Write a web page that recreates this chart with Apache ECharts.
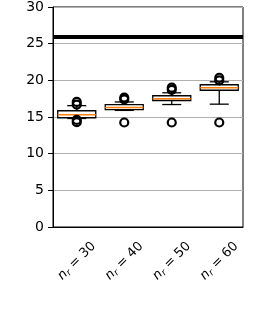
<!DOCTYPE html>
<html><head><meta charset="utf-8">
<script src="https://cdn.jsdelivr.net/npm/echarts@6/dist/echarts.min.js"></script>
<style>html,body{margin:0;padding:0;background:#fff}#c{width:254px;height:314px}</style>
</head><body><div id="c"></div>
<script>
const categories = ['30', '40', '50', '60'];
// [whiskerLow, q1, median, q3, whiskerHigh]
const boxStats = [
  [14.8, 14.9, 15.3, 15.85, 16.55],
  [15.9, 16.0, 16.3, 16.7, 17.05],
  [16.7, 17.25, 17.5, 17.9, 18.3],
  [16.75, 18.65, 19.0, 19.4, 19.8]
];
const outliers = [
  [0, 17.05], [0, 16.7], [0, 14.6], [0, 14.3],
  [1, 17.65], [1, 17.4], [1, 14.25],
  [2, 19.0], [2, 18.7], [2, 14.25],
  [3, 20.35], [3, 20.0], [3, 14.25]
];
const refLine = 25.9;
const yTicks = { min: 0, max: 30, interval: 5 };

const chart = echarts.init(document.getElementById('c'));
const font = 'DejaVu Sans';
chart.setOption({
  animation: false,
  grid: { left: 53, right: 11, top: 7, bottom: 87, show: true, borderColor: '#000', borderWidth: 1, backgroundColor: 'transparent' },
  xAxis: {
    type: 'category', data: categories, boundaryGap: true,
    axisLine: { lineStyle: { color: '#000', width: 1 } },
    axisTick: { alignWithLabel: true, length: 5, lineStyle: { color: '#000' } },
    splitLine: { show: false },
    axisLabel: {
      rotate: 45, margin: 34, align: 'center', verticalAlign: 'middle',
      color: '#000', fontFamily: font, fontSize: 13,
      formatter: v => '{i|n}{s|r}{n| = ' + v + '}',
      rich: {
        i: { fontFamily: font, fontSize: 13, fontStyle: 'italic', color: '#000' },
        s: { fontFamily: font, fontSize: 9, fontStyle: 'italic', color: '#000', padding: [6, 0, 0, 0] },
        n: { fontFamily: font, fontSize: 13, color: '#000' }
      }
    }
  },
  yAxis: {
    type: 'value', min: yTicks.min, max: yTicks.max, interval: yTicks.interval,
    axisLine: { show: true, lineStyle: { color: '#000', width: 1 } },
    axisTick: { show: true, length: 5, lineStyle: { color: '#000' } },
    axisLabel: { color: '#000', fontFamily: font, fontSize: 14, margin: 9 },
    splitLine: { lineStyle: { color: '#b0b0b0', width: 1 } }
  },
  series: [
    {
      type: 'custom',
      data: boxStats.map((s, i) => [i].concat(s)),
      z: 3,
      renderItem: function (params, api) {
        const i = api.value(0);
        const band = api.size([1, 0])[0];
        const bw = band * 0.8, cw = bw * 0.5;
        const lo = api.coord([i, api.value(1)]);
        const q1 = api.coord([i, api.value(2)]);
        const md = api.coord([i, api.value(3)]);
        const q3 = api.coord([i, api.value(4)]);
        const hi = api.coord([i, api.value(5)]);
        const x = lo[0];
        const blk = { stroke: '#000', lineWidth: 1.3, fill: null };
        return {
          type: 'group', children: [
            { type: 'line', shape: { x1: x, y1: lo[1], x2: x, y2: q1[1] }, style: blk },
            { type: 'line', shape: { x1: x, y1: q3[1], x2: x, y2: hi[1] }, style: blk },
            { type: 'line', shape: { x1: x - cw / 2, y1: lo[1], x2: x + cw / 2, y2: lo[1] }, style: blk },
            { type: 'line', shape: { x1: x - cw / 2, y1: hi[1], x2: x + cw / 2, y2: hi[1] }, style: blk },
            { type: 'rect', shape: { x: x - bw / 2, y: q3[1], width: bw, height: q1[1] - q3[1] }, style: { stroke: '#000', lineWidth: 1.3, fill: 'rgba(255,255,255,0)' } },
            { type: 'line', shape: { x1: x - bw / 2, y1: md[1], x2: x + bw / 2, y2: md[1] }, style: { stroke: '#ff7f0e', lineWidth: 1.5 } }
          ]
        };
      }
    },
    {
      type: 'scatter', data: outliers, symbol: 'circle', symbolSize: 8, z: 4,
      itemStyle: { color: 'rgba(255,255,255,0)', borderColor: '#000', borderWidth: 2.2, opacity: 1 }
    },
    {
      type: 'line', data: [], z: 5,
      markLine: {
        silent: true, symbol: 'none', label: { show: false },
        lineStyle: { color: '#000', width: 4, type: 'solid' },
        data: [{ yAxis: refLine }]
      }
    }
  ]
});
</script></body></html>
